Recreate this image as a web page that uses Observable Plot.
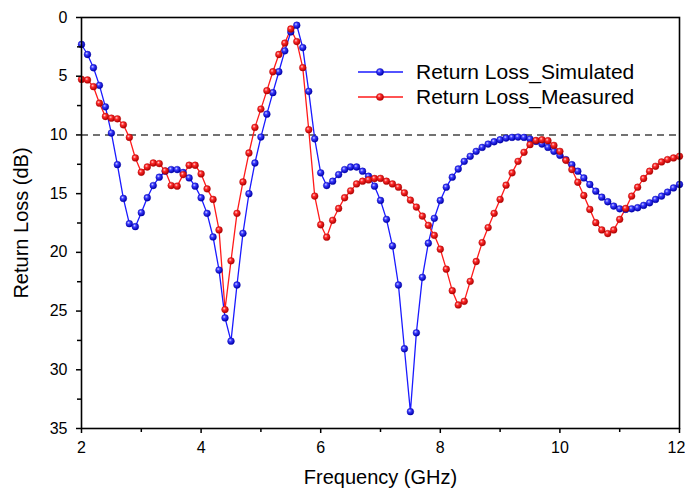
<!DOCTYPE html>
<html>
<head>
<meta charset="utf-8">
<script src="https://cdn.jsdelivr.net/npm/d3@7"></script>
<script src="https://cdn.jsdelivr.net/npm/@observablehq/plot@0.6"></script>
<style>
  html, body { margin: 0; padding: 0; background: #fff; }
  #wrap { position: relative; width: 685px; height: 493px; font-family: "Liberation Sans", Arial, sans-serif; }
  #legend { position: absolute; left: 350px; top: 58px; }
</style>
</head>
<body>
<div id="wrap"></div>
<script>
const frequency = [
  2.0,2.1,2.2,2.3,2.4,2.5,2.6,2.7,2.8,2.9,
  3.0,3.1,3.2,3.3,3.4,3.5,3.6,3.7,3.8,3.9,
  4.0,4.1,4.2,4.3,4.4,4.5,4.6,4.7,4.8,4.9,
  5.0,5.1,5.2,5.3,5.4,5.5,5.6,5.7,5.8,5.9,
  6.0,6.1,6.2,6.3,6.4,6.5,6.6,6.7,6.8,6.9,
  7.0,7.1,7.2,7.3,7.4,7.5,7.6,7.7,7.8,7.9,
  8.0,8.1,8.2,8.3,8.4,8.5,8.6,8.7,8.8,8.9,
  9.0,9.1,9.2,9.3,9.4,9.5,9.6,9.7,9.8,9.9,
  10.0,10.1,10.2,10.3,10.4,10.5,10.6,10.7,10.8,10.9,
  11.0,11.1,11.2,11.3,11.4,11.5,11.6,11.7,11.8,11.9,
  12.0
];
const simulated = [
  2.30,3.15,4.28,5.78,7.61,9.84,12.53,15.41,17.56,17.81,
  16.62,15.35,14.31,13.60,13.09,12.95,12.95,13.20,13.66,14.36,
  15.35,16.68,18.69,21.51,25.58,27.56,22.78,18.38,15.01,12.39,
  10.18,8.23,6.40,4.62,2.84,1.23,0.66,2.56,6.29,10.33,
  13.23,14.31,13.94,13.38,12.95,12.73,12.73,13.09,13.52,14.36,
  15.58,17.19,19.45,22.78,28.21,33.57,26.85,22.13,19.22,17.10,
  15.58,14.45,13.60,12.90,12.25,11.82,11.40,11.06,10.78,10.58,
  10.41,10.27,10.21,10.18,10.21,10.35,10.55,10.78,11.06,11.40,
  11.74,12.10,12.53,13.09,13.66,14.22,14.79,15.30,15.69,16.06,
  16.29,16.34,16.29,16.20,16.00,15.78,15.49,15.21,14.87,14.51,
  14.22
];
const measured = [
  5.27,5.32,5.89,7.30,8.43,8.57,8.63,9.14,10.21,11.96,
  13.18,12.73,12.39,12.44,13.06,14.31,14.36,13.38,12.58,12.58,
  13.32,14.59,15.49,18.09,24.87,20.72,16.68,14.00,11.54,9.36,
  7.80,6.23,4.62,3.15,2.18,0.98,2.05,4.27,9.56,15.21,
  17.65,18.71,17.27,16.26,15.35,14.76,14.17,13.94,13.83,13.71,
  13.70,13.94,14.17,14.45,14.93,15.55,16.14,16.91,17.70,18.55,
  19.73,21.43,23.26,24.48,24.17,22.47,20.78,19.17,17.89,16.68,
  15.49,14.28,13.23,12.25,11.48,10.83,10.47,10.41,10.49,10.89,
  11.40,12.16,12.95,14.03,15.16,16.34,17.47,18.09,18.40,18.09,
  17.19,16.26,15.21,14.45,13.71,13.09,12.67,12.30,12.10,11.96,
  11.82
];
const seriesNames = ["Return Loss_Simulated", "Return Loss_Measured"];
const xTicks = [2, 4, 6, 8, 10];
const xLastTick = [12];
const xMinorTicks = [3, 5, 7, 9, 11];
const yTicks = [0, 5, 10, 15, 20, 25, 30, 35];
const yMinorTicks = [2.5, 7.5, 12.5, 17.5, 22.5, 27.5, 32.5];
const threshold = [10];

const simData = frequency.map((f, i) => ({f, v: simulated[i]}));
const meaData = frequency.map((f, i) => ({f, v: measured[i]}));

const chart = Plot.plot({
  width: 685,
  height: 493,
  marginLeft: 81,
  marginRight: 6,
  marginTop: 17,
  marginBottom: 65,
  x: {domain: [2, 12]},
  y: {domain: [0, 35], reverse: true},
  style: {fontFamily: "'Liberation Sans', Arial, sans-serif", fontSize: "16px", color: "#000", background: "#fff"},
  marks: [
    Plot.ruleY(threshold, {stroke: "#444", strokeWidth: 1.5, strokeDasharray: "7,5"}),
    Plot.line(simData, {x: "f", y: "v", stroke: "#1a1aff", strokeWidth: 1.3}),
    Plot.line(meaData, {x: "f", y: "v", stroke: "#ff1a1a", strokeWidth: 1.3}),
    Plot.dot(simData, {x: "f", y: "v", r: 3.4, fill: "url(#gradBlue)", stroke: "#0000b0", strokeWidth: 0.4}),
    Plot.dot(meaData, {x: "f", y: "v", r: 3.4, fill: "url(#gradRed)", stroke: "#b00000", strokeWidth: 0.4}),
    Plot.axisX({ticks: xTicks, tickSize: 5, tickPadding: 8, label: null, fontSize: 16, strokeWidth: 1.5}),
    Plot.axisX({ticks: xLastTick, tickSize: 5, text: null, label: null, strokeWidth: 1.5}),
    Plot.axisX({ticks: xLastTick, tickSize: 0, tickPadding: 13, label: null, fontSize: 16, dx: -3}),
    Plot.axisX({ticks: xMinorTicks, tickSize: 4, text: null, label: null, strokeWidth: 1.5}),
    Plot.axisY({ticks: yTicks, tickSize: 5, tickPadding: 9, label: null, fontSize: 16, strokeWidth: 1.5}),
    Plot.axisY({ticks: yMinorTicks, tickSize: 4, text: null, label: null, strokeWidth: 1.5}),
    Plot.text(["Frequency (GHz)"], {frameAnchor: "bottom", textAnchor: "middle", dy: 55, fontSize: 20}),
    Plot.text(["Return Loss (dB)"], {frameAnchor: "left", textAnchor: "middle", dx: -60, rotate: -90, fontSize: 20}),
    Plot.frame({stroke: "#000", strokeWidth: 1.6})
  ]
});

chart.insertAdjacentHTML("afterbegin", `
<defs>
  <radialGradient id="gradBlue" cx="38%" cy="35%" r="65%">
    <stop offset="0%" stop-color="#d0d0ff"/>
    <stop offset="35%" stop-color="#3a3aff"/>
    <stop offset="100%" stop-color="#0000a8"/>
  </radialGradient>
  <radialGradient id="gradRed" cx="38%" cy="35%" r="65%">
    <stop offset="0%" stop-color="#ffd0d0"/>
    <stop offset="35%" stop-color="#ff2a2a"/>
    <stop offset="100%" stop-color="#b00000"/>
  </radialGradient>
</defs>`);

const wrap = document.getElementById("wrap");
wrap.appendChild(chart);

// legend
const colors = [{line: "#1a1aff", fill: "url(#gradBlue)", stroke: "#0000b0"}, {line: "#ff1a1a", fill: "url(#gradRed)", stroke: "#b00000"}];
const ns = "http://www.w3.org/2000/svg";
const leg = document.createElementNS(ns, "svg");
leg.setAttribute("id", "legend");
leg.setAttribute("width", 320);
leg.setAttribute("height", 60);
seriesNames.forEach((name, i) => {
  const y = 14 + i * 25;
  const ln = document.createElementNS(ns, "line");
  ln.setAttribute("x1", 8); ln.setAttribute("x2", 53);
  ln.setAttribute("y1", y); ln.setAttribute("y2", y);
  ln.setAttribute("stroke", colors[i].line); ln.setAttribute("stroke-width", 1.3);
  leg.appendChild(ln);
  const c = document.createElementNS(ns, "circle");
  c.setAttribute("cx", 30); c.setAttribute("cy", y); c.setAttribute("r", 3.6);
  c.setAttribute("fill", colors[i].fill); c.setAttribute("stroke", colors[i].stroke); c.setAttribute("stroke-width", 0.4);
  leg.appendChild(c);
  const t = document.createElementNS(ns, "text");
  t.setAttribute("x", 66); t.setAttribute("y", y);
  t.setAttribute("dy", "0.35em");
  t.setAttribute("font-size", 21);
  t.setAttribute("font-family", "'Liberation Sans', Arial, sans-serif");
  t.textContent = name;
  leg.appendChild(t);
});
wrap.appendChild(leg);
</script>
</body>
</html>
